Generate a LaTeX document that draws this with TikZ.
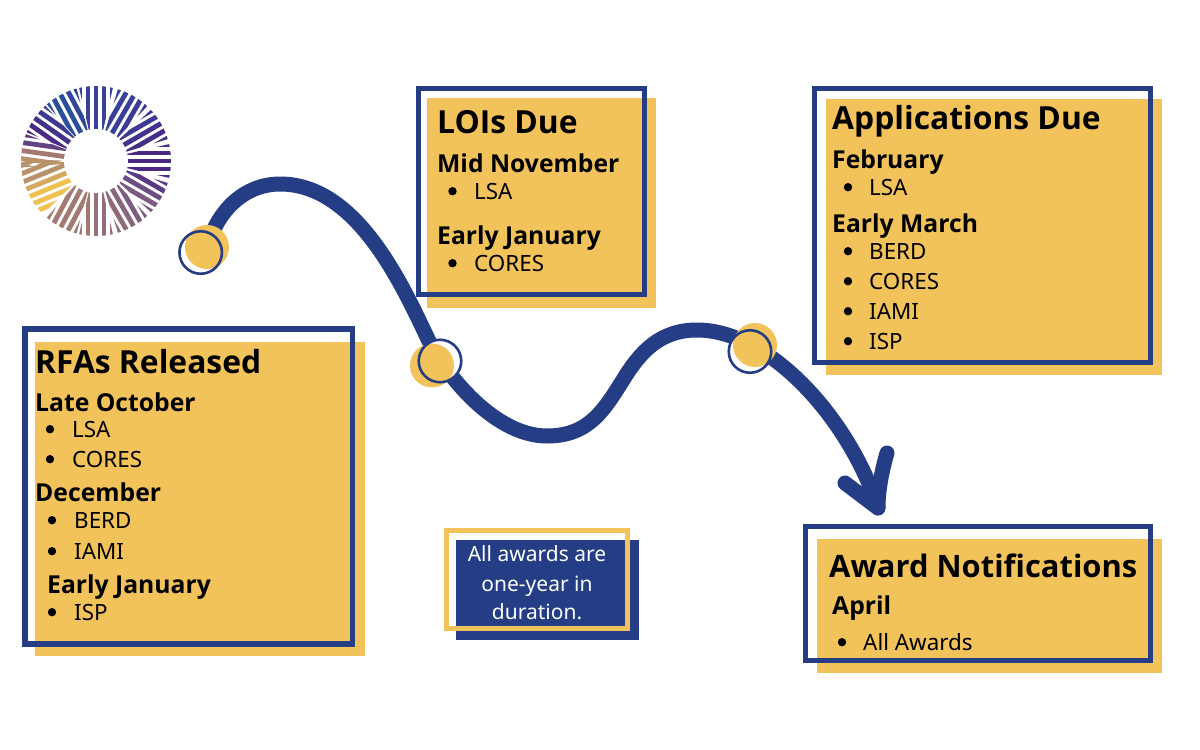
\documentclass[tikz,border=0pt]{standalone}
\usepackage{fontspec}
\setmainfont{Noto Sans}
\newfontfamily\hvy{Open Sans}
\definecolor{gold}{HTML}{F3C35B}
\definecolor{navy}{HTML}{253D85}
\definecolor{lBlue}{HTML}{2A4F9C}
\definecolor{lIndigo}{HTML}{38409A}
\definecolor{lPurple}{HTML}{4A2A85}
\definecolor{lMauve}{HTML}{7C5C80}
\definecolor{lBrown}{HTML}{A27A72}
\definecolor{lTan}{HTML}{B8926A}
\definecolor{lYellow}{HTML}{F0C050}
\tikzset{
  x=1pt,y=-1pt,
  yfill/.style={fill=gold,draw=none},
  frame/.style={draw=navy,line width=5.6pt},
  head/.style={anchor=base west,inner sep=0pt,font=\fontsize{31.8}{32}\hvy\bfseries\selectfont},
  sub/.style={anchor=base west,inner sep=0pt,font=\fontsize{24.7}{25}\hvy\bfseries\selectfont},
  item/.style={anchor=base west,inner sep=0pt,font=\fontsize{22.4}{22}\selectfont},
  bdot/.style={circle,fill=black,inner sep=0pt,minimum size=8.4pt},
  note/.style={anchor=base,inner sep=0pt,text=white,font=\fontsize{21}{21}\selectfont},
  dotgold/.style={circle,fill=gold,inner sep=0pt,minimum size=44pt},
  ringbase/.style={circle,fill=white,inner sep=0pt,minimum size=44pt},
  ringn/.style={circle,draw=navy,line width=2.6pt,inner sep=0pt,minimum size=42.5pt},
  wave/.style={draw=navy,line width=15pt,line cap=round,line join=round},
}
% name, bullet x, text x, baseline y, text
\newcommand{\itemrow}[5]{%
  \node[bdot] (#1b) at (#2,#4-7.8) {};
  \node[item] (#1) at (#3,#4) {#5};}
\begin{document}
\begin{tikzpicture}
\useasboundingbox (0,0) rectangle (1200,750);
\fill[white] (0,0) rectangle (1200,750);

% logo
\begin{scope}[shift={(96,161)}]
\def\logosector#1#2#3#4#5{%
  \begin{scope}
    \clip (0,0) -- ({90*cos(#1-#2)},{-90*sin(#1-#2)}) -- ({90*cos(#1)},{-90*sin(#1)}) -- ({90*cos(#1+#2)},{-90*sin(#1+#2)}) -- cycle;
    \begin{scope}[rotate=#1]
      \foreach \o/\c in {-32/#3,-24/#3,-16/#3,-8/#3,0/#4,8/#5,16/#5,24/#5,32/#5}{
        \draw[line width=4.8pt,\c] (30,\o) -- (76,\o);
      }
    \end{scope}
  \end{scope}}
\begin{scope}
\clip (0,0) circle (75);
\logosector{90}{13}{lIndigo}{lIndigo}{lIndigo}
\logosector{60}{13}{lIndigo}{lIndigo}{lIndigo!70!lPurple}
\logosector{30}{13}{lIndigo!70!lPurple}{lIndigo!40!lPurple}{lIndigo!20!lPurple}
\logosector{0}{13}{lPurple}{lPurple}{lPurple}
\logosector{-30}{13}{lPurple!70!lMauve}{lPurple!30!lMauve}{lMauve}
\logosector{-60}{13}{lMauve}{lMauve!70!lBrown}{lMauve!50!lBrown}
\logosector{-90}{13}{lMauve!40!lBrown}{lMauve!30!lBrown}{lBrown}
\logosector{-118}{13}{lBrown}{lBrown}{lBrown}
\logosector{-158}{23}{lYellow}{lTan!50!lYellow}{lTan}
\logosector{172}{13}{lTan}{lBrown}{lPurple!50!lMauve}
\logosector{145}{12.5}{lPurple}{lPurple!80!lBlue}{lBlue!40!lPurple}
\logosector{118}{13}{lBlue}{lBlue}{lIndigo!50!lBlue}
\end{scope}
\fill[white] (0,0) circle (32);
\end{scope}

% boxes
\fill[yfill] (35,341.5) rectangle (365,656);
\draw[frame] (25,329) rectangle (352.5,644);
\fill[yfill] (427,98) rectangle (656,308);
\draw[frame] (418.5,88.5) rectangle (644.5,294.5);
\fill[yfill] (826,99) rectangle (1162,375);
\draw[frame] (814.5,88.5) rectangle (1150.5,362.5);
\fill[yfill] (817,539) rectangle (1162,673);
\draw[frame] (805.5,526.5) rectangle (1150.5,660.5);
\fill[navy] (456,540) rectangle (639,640);
\draw[draw=gold,line width=5pt] (446.5,530.5) rectangle (627.5,628.5);

% path
\coordinate (start) at (208,245);
\coordinate (peak) at (280,184);
\coordinate (mid) at (427,337);
\coordinate (trough) at (547,436);
\coordinate (rise) at (623,380);
\coordinate (crest) at (697,330);
\coordinate (tip) at (878,508);
\coordinate (barbR) at (887,453);
\coordinate (barbL) at (845,483);
\draw[wave] (start) .. controls (218,210) and (245,184) .. (peak)
  .. controls (355,184) and (400,280) .. (mid)
  .. controls (445,375) and (495,436) .. (trough)
  .. controls (590,436) and (605,408) .. (rise)
  .. controls (640,352) and (660,330) .. (crest)
  .. controls (770,330) and (850,420) .. (tip);
\draw[wave] (barbR) .. controls (882,470) and (878,490) .. (tip) -- (barbL);

% markers
\node[ringbase] (b1) at (200.7,252.5) {};
\node[dotgold] (d1) at (207,247) {};
\node[ringn] (r1) at (200.7,252.5) {};
\node[ringbase] (b2) at (440,361) {};
\node[dotgold] (d2) at (432,365.5) {};
\node[ringn] (r2) at (440,361) {};
\node[ringbase] (b3) at (750,351.5) {};
\node[dotgold] (d3) at (755,345) {};
\node[ringn] (r3) at (750,351.5) {};

% text
\node[head] (t1) at (35,373) {RFAs Released};
\node[sub] (t1a) at (35,411) {Late October};
\itemrow{t1b}{50}{72}{437}{LSA}
\itemrow{t1c}{50}{72}{467}{CORES}
\node[sub] (t1d) at (35,501) {December};
\itemrow{t1e}{52}{74}{528}{BERD}
\itemrow{t1f}{52}{74}{559}{IAMI}
\node[sub] (t1g) at (47,593) {Early January};
\itemrow{t1h}{52}{74}{620}{ISP}

\node[head] (t2) at (437,133) {LOIs Due};
\node[sub] (t2a) at (437,172) {Mid November};
\itemrow{t2b}{452.5}{474}{199}{LSA}
\node[sub] (t2c) at (437,244) {Early January};
\itemrow{t2d}{452.5}{474}{271}{CORES}

\node[head] (t3) at (832,129) {Applications Due};
\node[sub] (t3a) at (832,168) {February};
\itemrow{t3b}{848}{869}{195}{LSA}
\node[sub] (t3c) at (832,232) {Early March};
\itemrow{t3d}{848}{869}{259}{BERD}
\itemrow{t3e}{848}{869}{289}{CORES}
\itemrow{t3f}{848}{869}{319}{IAMI}
\itemrow{t3g}{848}{869}{349}{ISP}

\node[head,font=\fontsize{30.9}{32}\hvy\bfseries\selectfont] (t4) at (829,577) {Award Notifications};
\node[sub] (t4a) at (832,614) {April};
\itemrow{t4b}{842}{863}{650}{All Awards}

\node[note] (n1) at (537,561) {All awards are};
\node[note] (n2) at (537,591) {one-year in};
\node[note] (n3) at (537,619) {duration.};
\end{tikzpicture}
\end{document}
